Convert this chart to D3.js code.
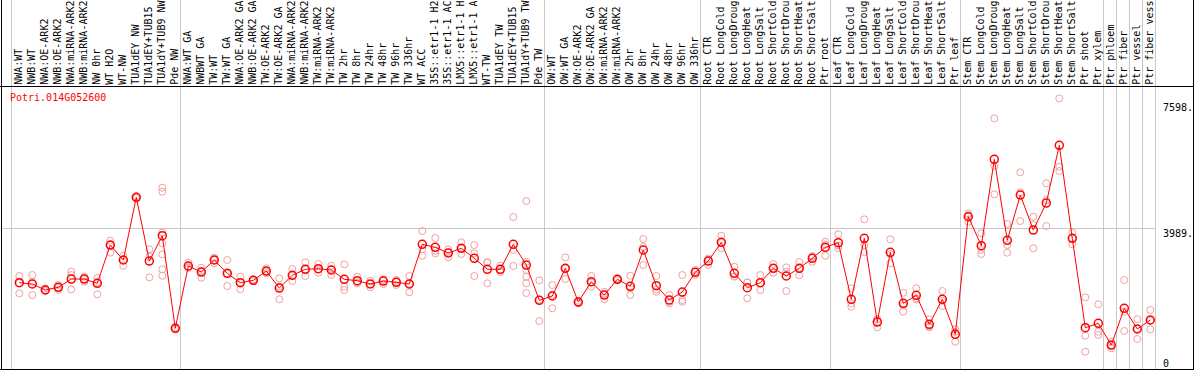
<!DOCTYPE html>
<html>
<head>
<meta charset="utf-8">
<style>
  body { margin: 0; background: #fff; }
  svg { display: block; font-family: "DejaVu Sans Mono", monospace; font-size: 10px; }
</style>
</head>
<body>
<svg width="1194" height="370"></svg>
<script src="https://d3js.org/d3.v7.min.js"></script>
<script>

var gene = "Potri.014G052600";

// sample names as they show in the label strip (long ones are cut to 14 chars)
var samples = [
  "NWA:WT", "NWB:WT", "NWA:OE-ARK2", "NWB:OE-ARK2", "NWA:miRNA-ARK2", "NWB:miRNA-ARK2",
  "NW 0hr", "WT H2O", "WT-NW", "TUA1dEY NW", "TUA1dEY+TUB15", "TUA1dY+TUB9 NW", "Pde NW",
  "NWA:WT GA", "NWBWT GA", "TW:WT", "TW:WT GA", "NWA:OE-ARK2 GA", "NWB:OE-ARK2 GA",
  "TW:OE-ARK2", "TW:OE-ARK2 GA", "NWA:miRNA-ARK2", "NWB:miRNA-ARK2", "TW:miRNA-ARK2", "TW:miRNA-ARK2",
  "TW 2hr", "TW 8hr", "TW 24hr", "TW 48hr", "TW 96hr", "TW 336hr", "WT ACC",
  "35S::etr1-1 H2", "35S::etr1-1 AC", "LMX5::etr1-1 H", "LMX5::etr1-1 A", "WT-TW",
  "TUA1dEY TW", "TUA1dEY+TUB15", "TUA1dY+TUB9 TW", "Pde TW",
  "OW:WT", "OW:WT GA", "OW:OE-ARK2", "OW:OE-ARK2 GA", "OW:miRNA-ARK2", "OW:miRNA-ARK2",
  "OW 2hr", "OW 8hr", "OW 24hr", "OW 48hr", "OW 96hr", "OW 336hr",
  "Root CTR", "Root LongCold", "Root LongDroug", "Root LongHeat", "Root LongSalt",
  "Root ShortCold", "Root ShortDrou", "Root ShortHeat", "Root ShortSalt", "Ptr root",
  "Leaf CTR", "Leaf LongCold", "Leaf LongDroug", "Leaf LongHeat", "Leaf LongSalt",
  "Leaf ShortCold", "Leaf ShortDrou", "Leaf ShortHeat", "Leaf ShortSalt", "Ptr leaf",
  "Stem CTR", "Stem LongCold", "Stem LongDroug", "Stem LongHeat", "Stem LongSalt",
  "Stem ShortCold", "Stem ShortDrou", "Stem ShortHeat", "Stem ShortSalt",
  "Ptr shoot", "Ptr xylem", "Ptr phloem", "Ptr fiber", "Ptr vessel", "Ptr fiber vess"
];

// index of the first sample of each group (last = end)
var groupStarts = [0, 13, 41, 53, 63, 73, 84, 85, 86, 87, 88];

var means = [
  2419, 2382, 2210, 2287, 2525, 2525, 2402, 3501, 3071, 4870, 3042, 3768, 1111,
  2899, 2726, 3071, 2689, 2419, 2488, 2755, 2267, 2632, 2804, 2821, 2784, 2517,
  2477, 2382, 2468, 2431, 2382, 3521, 3435, 3272, 3407, 3120, 2804, 2804, 3521,
  2927, 1914,
  2038, 2833, 1865, 2448, 2066, 2517, 2316, 3358, 2333, 1923, 2152, 2718,
  3042, 3579, 2689, 2276, 2419, 2833, 2612, 2833, 3120, 3435,
  3567, 1943, 3693, 1291, 3292, 1828, 2058, 1225, 1943, 938,
  4313, 3481, 5961, 3636, 4936, 3932, 4707, 6362, 3693, 1128, 1254,
  631, 1685, 1091, 1349
];

var replicates = [
  [2612, 2411, 2115], [2640, 2440, 2066], [2259, 2210, 2181], [2353, 2287, 2210],
  [2735, 2640, 2230], [2592, 2525, 2448], [2560, 2430, 2086], [3625, 3501, 3280],
  [3194, 3071, 2907], [4900, 4870, 4840], [3378, 3166, 2574],
  [5146, 5031, 3854, 3550, 3234, 2804, 2620], [1140, 1111, 1085],
  [2993, 2870, 2840], [2850, 2760, 2563], [3137, 3071, 2976], [3071, 2680, 2325],
  [2592, 2430, 2230], [2517, 2488, 2460], [2833, 2745, 2689], [2546, 2310, 1943],
  [2813, 2615, 2468], [3005, 2800, 2612], [2956, 2800, 2706], [2907, 2805, 2640],
  [2947, 2305, 2210], [2592, 2440, 2402], [2477, 2382, 2287], [2525, 2497, 2382],
  [2497, 2443, 2353], [2612, 2390, 2144], [3903, 3378, 3194], [3702, 3340, 3263],
  [3378, 3290, 3148], [3579, 3400, 3243], [3501, 3263, 2612], [3013, 2990, 2402],
  [2907, 2780, 2726], [4305, 3360, 2899],
  [4764, 3022, 2784, 2592, 2402, 2124], [2488, 1935, 1320],
  [2353, 2075, 1685], [3148, 2830, 2525], [1903, 1865, 1830], [2612, 2430, 2305],
  [2161, 2095, 1943], [2546, 2517, 2490], [2620, 2260, 2066], [3673, 3452, 2927],
  [2612, 2225, 2161], [2066, 1875, 1828], [2640, 1923, 1874], [2784, 2730, 2640],
  [3120, 3080, 2927], [3768, 3560, 3407], [2879, 2600, 2592], [2431, 2425, 1972],
  [2640, 2410, 2210], [2956, 2840, 2706], [2861, 2735, 2181], [3013, 2850, 2632],
  [3186, 3150, 3022], [3596, 3515, 3194],
  [3808, 3490, 3407], [2259, 1828, 1731], [4239, 3501, 3292], [1369, 1365, 1139],
  [3665, 3235, 2976], [2132, 1765, 1587], [2259, 1972, 1943], [1369, 1167, 1139],
  [2181, 1898, 1751], [1082, 1006, 726],
  [4411, 4358, 4170], [3837, 3358, 3243], [7138, 5769, 4956], [4104, 3501, 3280],
  [5588, 5014, 4190], [4313, 4076, 3407], [5272, 4793, 4047], [7711, 5749, 5625],
  [3854, 3705, 3521], [2000, 898, 439], [1799, 1013, 918],
  [725, 631, 537], [2497, 1587, 1033], [1369, 1100, 804], [1636, 1330, 1082]
];

var yTicks = [0, 3989, 7598];
var yTickLabels = ["0", "3989.", "7598."];

var svg = d3.select("svg"),
    width = +svg.attr("width"),
    height = +svg.attr("height");

var labelBottom = 86, plotBottom = 369;

var x = d3.scaleLinear().domain([0, samples.length - 1]).range([19.3, 1150.3]);
var y = d3.scaleLinear().domain([0, 7598]).range([367, 102.3]);

// gray grid
svg.append("g").selectAll("line")
  .data(groupStarts)
  .enter().append("line")
    .attr("x1", function(d) { return Math.round(x(d - 0.62)) + 0.5; })
    .attr("x2", function(d) { return Math.round(x(d - 0.62)) + 0.5; })
    .attr("y1", 0)
    .attr("y2", plotBottom)
    .attr("stroke", "#c8c8c8");

svg.append("line")
  .attr("x1", 2).attr("x2", 1156)
  .attr("y1", Math.round(y(3989)) + 0.5).attr("y2", Math.round(y(3989)) + 0.5)
  .attr("stroke", "#c8c8c8");

// black frame
svg.append("line").attr("x1", 0).attr("x2", width).attr("y1", labelBottom + 0.5).attr("y2", labelBottom + 0.5).attr("stroke", "#000");
svg.append("line").attr("x1", 0).attr("x2", width).attr("y1", plotBottom + 0.5).attr("y2", plotBottom + 0.5).attr("stroke", "#000");
svg.append("line").attr("x1", 1.5).attr("x2", 1.5).attr("y1", 0).attr("y2", plotBottom).attr("stroke", "#000");
svg.append("line").attr("x1", 1193.5).attr("x2", 1193.5).attr("y1", 0).attr("y2", plotBottom).attr("stroke", "#000");

// sample labels
svg.append("g")
  .selectAll("text")
  .data(samples)
  .enter().append("text")
    .attr("transform", function(d, i) { return "translate(" + (x(i) + 3) + "," + (labelBottom - 1.2) + ") rotate(-90)"; })
    .attr("fill", "#000")
    .text(function(d) { return d; });

// gene name
svg.append("text")
  .attr("x", 10).attr("y", 100.5)
  .attr("fill", "#f00")
  .text(gene);

// y axis on the right
var axis = svg.append("g")
  .attr("transform", "translate(1163,0)")
  .call(d3.axisRight(y).tickValues(yTicks).tickSize(0).tickPadding(0)
    .tickFormat(function(d, i) { return yTickLabels[i]; }));
axis.select(".domain").remove();
axis.selectAll("text")
  .attr("font-family", "DejaVu Sans Mono, monospace")
  .attr("font-size", 10)
  .attr("fill", "#000")
  .attr("x", 0)
  .attr("dy", function(d) { return d === 0 ? "-0.1em" : "0.85em"; });

// replicates
var reps = [];
replicates.forEach(function(r, i) { r.forEach(function(v) { reps.push({i: i, v: v}); }); });

svg.append("g").selectAll("circle")
  .data(reps)
  .enter().append("circle")
    .attr("cx", function(d) { return x(d.i); })
    .attr("cy", function(d) { return y(d.v); })
    .attr("r", 3.5)
    .attr("fill", "none")
    .attr("stroke", "#f0a0a0")
    .attr("stroke-width", 1);

// mean line
svg.append("path")
  .datum(means)
  .attr("fill", "none")
  .attr("stroke", "#f00")
  .attr("stroke-width", 1)
  .attr("d", d3.line().x(function(d, i) { return x(i); }).y(function(d) { return y(d); }));

svg.append("g").selectAll("circle")
  .data(means)
  .enter().append("circle")
    .attr("cx", function(d, i) { return x(i); })
    .attr("cy", function(d) { return y(d); })
    .attr("r", 4)
    .attr("fill", "none")
    .attr("stroke", "#f00")
    .attr("stroke-width", 1.5);

</script>
</body>
</html>
